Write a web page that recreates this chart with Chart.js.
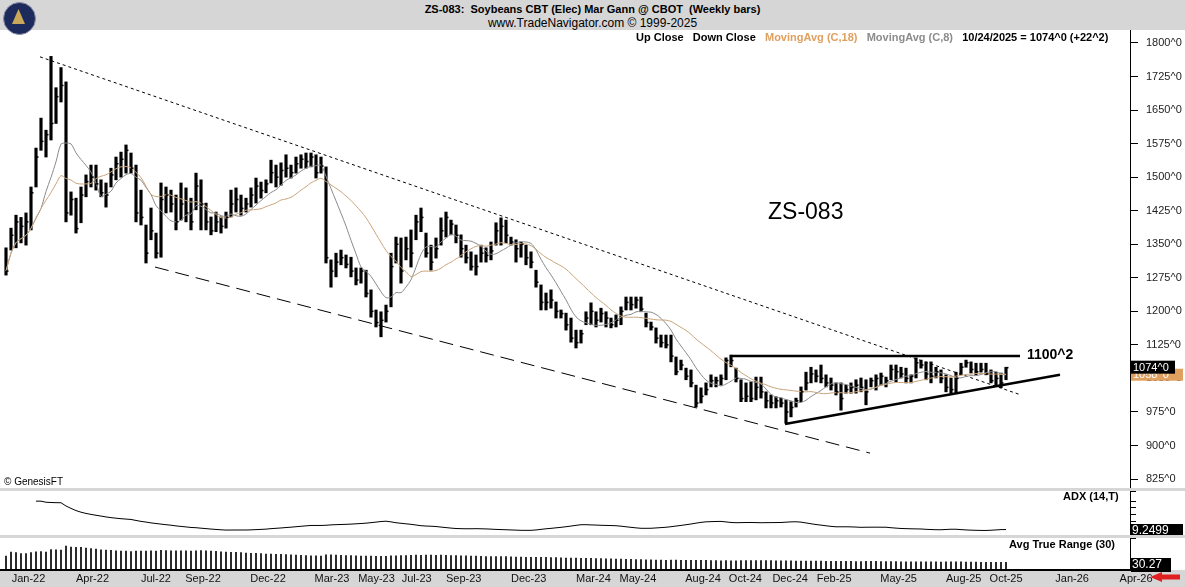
<!DOCTYPE html>
<html>
<head>
<meta charset="utf-8">
<script src="https://cdn.jsdelivr.net/npm/chart.js@4.4.1/dist/chart.umd.min.js"></script>
<style>
  body { margin:0; width:1185px; height:587px; background:#d6d6d6; font-family:"Liberation Sans", Arial, sans-serif; position:relative; overflow:hidden; }
  canvas { position:absolute; left:0; background:#fff; }
  .t { position:absolute; font-size:11px; white-space:nowrap; }
  .b { font-weight:bold; }
</style>
</head>
<body>
<div style="position:absolute;left:3px;top:2px;width:31px;height:31px;border-radius:50%;background:#1d2b5c;border:1px solid #8a8fa8;z-index:3"></div>
<div style="position:absolute;left:12px;top:9px;width:13px;height:15px;background:#c9a85a;clip-path:polygon(50% 0,100% 100%,0 100%);z-index:4"></div>
<div class="t b" style="left:0;width:1185px;text-align:center;top:3px;">ZS-083:&nbsp; Soybeans CBT (Elec) Mar Gann @ CBOT&nbsp; (Weekly bars)</div>
<div class="t" style="left:0;width:1185px;text-align:center;top:16px;font-size:12px;">www.TradeNavigator.com © 1999-2025</div>

<canvas id="main" width="1185" height="458" style="top:30px"></canvas>
<canvas id="adx" width="1185" height="44" style="top:491px"></canvas>
<canvas id="atr" width="1185" height="49" style="top:538px;background:#d6d6d6"></canvas>

<div class="t b" style="left:636px;top:31px;z-index:2">Up Close&nbsp;&nbsp; Down Close&nbsp;&nbsp; <span style="color:#e0a060">MovingAvg (C,18)</span>&nbsp;&nbsp; <span style="color:#8c8c8c">MovingAvg (C,8)</span>&nbsp;&nbsp; 10/24/2025 = 1074^0 (+22^2)</div>
<div class="t" style="left:768px;top:198px;font-size:23px;z-index:2">ZS-083</div>
<div class="t b" style="left:1027px;top:346px;font-size:14px;z-index:2">1100^2</div>
<div class="t" style="left:4px;top:476px;font-size:10px;z-index:2">© GenesisFT</div>
<div class="t b" style="left:1063px;top:490px;z-index:2">ADX (14,T)</div>
<div class="t b" style="left:1009px;top:538px;z-index:2">Avg True Range (30)</div>
<div style="position:absolute;left:1150px;top:572px;width:30px;height:10px;background:#e02020;clip-path:polygon(0 50%,40% 0,40% 25%,100% 25%,100% 75%,40% 75%,40% 100%);z-index:3"></div>

<script>
// weekly bars, first bar = week of 12/24/2021, last = 10/24/2025
var startDate = new Date(2021, 11, 24);

var highs = [1342,1386,1415,1410,1420,1478,1565,1632,1605,1770,1700,1745,1713,1467,1453,1478,1505,1527,1527,1494,1487,1520,1545,1556,1572,1554,1527,1471,1393,1431,1375,1487,1478,1471,1460,1487,1476,1453,1509,1494,
  1442,1411,1422,1411,1422,1471,1476,1460,1453,1476,1498,1489,1494,1538,1527,1532,1550,1527,1545,1550,1554,1554,1550,1545,1523,1315,1330,1337,1326,1321,1297,1297,1292,1248,1203,1199,1214,1330,1366,1364,1366,
  1382,1415,1431,1375,1348,1364,1409,1422,1404,1393,1371,1348,1333,1326,1348,1342,1355,1398,1409,1404,1366,1360,1355,1348,1333,1292,1259,1241,1248,1221,1203,1196,1185,1158,1158,1199,1219,1199,1207,1199,1185,1192,1210,1232,1232,1232,1232,1196,
  1176,1163,1147,1147,1147,1098,1091,1073,1069,1035,1029,1040,1058,1053,1058,1096,1102,1073,1047,1040,1042,1053,1053,1020,1013,1009,1006,1002,998,1006,1031,1064,1075,1069,1080,1058,1051,1040,1040,1035,1040,1047,1051,1047,1051,1058,
  1062,1053,1080,1080,1075,1073,1058,1096,1091,1087,1087,1075,1069,1058,1051,1064,1084,1091,1087,1084,1084,1084,1069,1064,1062,1075];
var lows = [1281,1337,1342,1353,1348,1382,1478,1560,1545,1583,1620,1668,1400,1415,1375,1398,1456,1478,1471,1456,1433,1478,1494,1500,1509,1509,1400,1393,1308,1360,1319,1321,1420,1422,1382,1404,1400,1382,1427,1382,
  1382,1371,1378,1375,1386,1411,1422,1415,1422,1433,1442,1453,1465,1487,1478,1482,1500,1498,1509,1520,1520,1523,1498,1509,1308,1254,1277,1304,1297,1277,1259,1263,1232,1187,1165,1143,1176,1210,1308,1263,1315,
  1299,1360,1378,1321,1292,1319,1348,1366,1371,1353,1321,1308,1292,1281,1310,1310,1315,1348,1348,1353,1348,1310,1321,1304,1297,1254,1203,1203,1207,1185,1185,1158,1131,1118,1129,1170,1170,1165,1176,1165,1163,1165,1170,1203,1203,1207,1199,1165,
  1158,1129,1120,1118,1087,1058,1069,1047,1031,986,995,1013,1031,1031,1035,1047,1076,1042,998,998,998,1002,1006,984,984,984,986,950,964,986,998,1024,1040,1042,1040,1031,1024,1013,979,1017,1017,1017,1020,991,1031,1024,
  1035,1031,1047,1042,1051,1040,1040,1051,1073,1047,1040,1051,1040,1020,1017,1017,1058,1075,1062,1058,1064,1058,1040,1035,1029,1047];
var closes = [1290,1370,1400,1390,1400,1465,1545,1580,1595,1620,1680,1705,1420,1450,1385,1460,1490,1500,1485,1465,1460,1505,1530,1540,1560,1520,1420,1410,1330,1380,1330,1450,1460,1440,1400,1440,1420,1400,1480,1440,
  1400,1380,1400,1390,1410,1440,1450,1430,1440,1460,1480,1470,1485,1510,1500,1515,1520,1510,1530,1540,1535,1545,1510,1525,1320,1290,1310,1320,1305,1290,1270,1290,1240,1200,1175,1180,1200,1300,1350,1290,1340,
  1330,1400,1410,1330,1310,1340,1380,1410,1395,1370,1340,1320,1300,1300,1330,1325,1335,1380,1390,1370,1355,1340,1350,1320,1310,1265,1220,1220,1225,1200,1195,1170,1140,1130,1150,1185,1200,1180,1195,1185,1170,1180,1200,1220,1215,1225,1205,1175,
  1165,1140,1130,1125,1100,1065,1080,1055,1040,995,1010,1025,1045,1045,1050,1090,1090,1050,1005,1010,1005,1030,1020,1000,995,1000,995,975,985,1000,1020,1040,1060,1055,1050,1040,1035,1020,1005,1025,1030,1035,1030,1020,1045,1050,
  1055,1045,1070,1065,1060,1050,1055,1085,1080,1060,1055,1065,1050,1030,1025,1050,1075,1085,1070,1065,1070,1060,1045,1050,1040,1074];

var priceTicks = [825,900,975,1050,1125,1200,1275,1350,1425,1500,1575,1650,1725,1800];
var monthLabels = ['Jan-22','Apr-22','Jul-22','Sep-22','Dec-22','Mar-23','May-23','Jul-23','Sep-23','Dec-23','Mar-24','May-24','Aug-24','Oct-24','Dec-24','Feb-25','May-25','Aug-25','Oct-25','Jan-26','Apr-26'];
var monthDates = ['2022-01-01','2022-04-01','2022-07-01','2022-09-01','2022-12-01','2023-03-01','2023-05-01','2023-07-01','2023-09-01','2023-12-01','2024-03-01','2024-05-01','2024-08-01','2024-10-01','2024-12-01','2025-02-01','2025-05-01','2025-08-01','2025-10-01','2026-01-01','2026-04-01'];

// drawn trend lines: [week index, price]
var resistLine = [[6.8, 1769], [203, 1013]];
var channelLow = [[29.8, 1299], [172.8, 883]];
var triangleTop = [[144.8, 1100], [202.8, 1100]];
var triangleLow = [[155.8, 948], [210.8, 1058]];
var adxLabel = '9.2499';
var atrLabel = '30.27';

function weekIndex(s) {
  var p = s.split('-');
  var d = new Date(+p[0], +p[1] - 1, +p[2]);
  return (d - startDate) / (7 * 86400000);
}

function sma(arr, n) {
  var out = [];
  for (var i = 0; i < arr.length; i++) {
    var k = Math.min(n, i + 1), s = 0;
    for (var j = i - k + 1; j <= i; j++) s += arr[j];
    out.push(s / k);
  }
  return out;
}

// true range, ATR(30) and ADX(14) from the bars
var tr = [], pdm = [], mdm = [];
for (var i = 0; i < closes.length; i++) {
  if (i == 0) { tr.push(highs[0] - lows[0]); pdm.push(0); mdm.push(0); continue; }
  tr.push(Math.max(highs[i] - lows[i], Math.abs(highs[i] - closes[i-1]), Math.abs(lows[i] - closes[i-1])));
  var up = highs[i] - highs[i-1], dn = lows[i-1] - lows[i];
  pdm.push(up > dn && up > 0 ? up : 0);
  mdm.push(dn > up && dn > 0 ? dn : 0);
}
function wilder(arr, n) {
  var out = [], v = arr[0];
  for (var i = 0; i < arr.length; i++) {
    var k = Math.min(n, i + 1);
    v = i == 0 ? arr[0] : v + (arr[i] - v) / k;
    out.push(v);
  }
  return out;
}
var atr = wilder(tr, 30);
var trs = wilder(tr, 14), ps = wilder(pdm, 14), ms = wilder(mdm, 14);
var dx = ps.map(function(p, i) { var s = p + ms[i]; return s ? 100 * Math.abs(p - ms[i]) / s : 0; });
var adx = wilder(dx.slice(6), 14);
var adxPts = adx.map(function(v, i) { return {x: i + 6, y: v}; });

var ma18 = sma(closes, 18), ma8 = sma(closes, 8);
function pts(arr) { return arr.map(function(v, i) { return {x: i, y: v}; }); }
function seg(line) { return line.map(function(p) { return {x: p[0], y: p[1]}; }); }

var xMin = -1.2, xMax = 224.8;
var fixedY = function(axis) { axis.width = 55; axis.paddingTop = 0; axis.paddingBottom = 0; };
var font = {family: '"Liberation Sans", Arial, sans-serif', size: 11};

var barTicks = {
  id: 'barTicks',
  afterDatasetsDraw: function(chart) {
    var ctx = chart.ctx, x = chart.scales.x, y = chart.scales.y;
    ctx.save();
    ctx.strokeStyle = '#000'; ctx.lineWidth = 1.5;
    for (var i = 0; i < closes.length; i++) {
      var px = x.getPixelForValue(i), py = y.getPixelForValue(closes[i]);
      ctx.beginPath(); ctx.moveTo(px, py); ctx.lineTo(px + 2.5, py); ctx.stroke();
    }
    // price boxes on the axis
    var last = closes.length - 1, ax = chart.chartArea.right + 1;
    var pm = y.getPixelForValue(ma18[last]);
    ctx.fillStyle = '#e0a060'; ctx.fillRect(ax, pm - 6, 52, 12);
    ctx.fillStyle = '#fff'; ctx.font = '11px "Liberation Sans", Arial';
    ctx.textBaseline = 'middle';
    ctx.fillText(Math.round(ma18[last]) + '^0', ax + 2, pm);
    var pc = y.getPixelForValue(closes[last]);
    ctx.fillStyle = '#000'; ctx.fillRect(ax, pc - 7, 44, 13);
    ctx.fillStyle = '#fff'; ctx.fillText(closes[last] + '^0', ax + 2, pc);
    ctx.restore();
  }
};

new Chart(document.getElementById('main'), {
  type: 'bar',
  data: {
    datasets: [
      {type: 'line', data: pts(ma18), borderColor: '#c9a47a', borderWidth: 1, pointRadius: 0, tension: 0.3},
      {type: 'line', data: pts(ma8), borderColor: '#8a8a8a', borderWidth: 1, pointRadius: 0, tension: 0.3},
      {data: closes.map(function(c, i) { return {x: i, y: [lows[i], highs[i]]}; }), backgroundColor: '#000', barThickness: 2.5},
      {type: 'line', data: seg(resistLine), borderColor: '#000', borderWidth: 1, borderDash: [3, 3], pointRadius: 0},
      {type: 'line', data: seg(channelLow), borderColor: '#000', borderWidth: 1, borderDash: [14, 7], pointRadius: 0},
      {type: 'line', data: seg(triangleTop), borderColor: '#000', borderWidth: 2.5, pointRadius: 0},
      {type: 'line', data: seg(triangleLow), borderColor: '#000', borderWidth: 2.5, pointRadius: 0}
    ]
  },
  options: {
    responsive: false, animation: false, layout: {padding: 0, autoPadding: false},
    plugins: {legend: {display: false}, tooltip: {enabled: false}},
    scales: {
      x: {type: 'linear', min: xMin, max: xMax, offset: false, display: false},
      y: {
        position: 'right', min: 805, max: 1829, afterFit: fixedY,
        afterBuildTicks: function(axis) { axis.ticks = priceTicks.map(function(v) { return {value: v}; }); },
        ticks: {color: '#222', font: font, padding: 8, callback: function(v) { return v + '^0'; }},
        grid: {drawOnChartArea: false, tickLength: 8, color: '#000'},
        border: {color: '#000'}
      }
    }
  },
  plugins: [barTicks]
});

var adxBox = {
  id: 'adxBox',
  afterDatasetsDraw: function(chart) {
    var ctx = chart.ctx, ax = chart.chartArea.right + 1, py = chart.chartArea.bottom - 4;
    ctx.save();
    ctx.fillStyle = '#000'; ctx.fillRect(ax, py - 7, 52, 14);
    ctx.fillStyle = '#fff'; ctx.font = '12px "Liberation Sans", Arial'; ctx.textBaseline = 'middle';
    ctx.fillText(adxLabel, ax + 1, py);
    ctx.restore();
  }
};

new Chart(document.getElementById('adx'), {
  type: 'line',
  data: {datasets: [{data: adxPts, borderColor: '#000', borderWidth: 1, pointRadius: 0}]},
  options: {
    responsive: false, animation: false, layout: {padding: 0, autoPadding: false},
    plugins: {legend: {display: false}, tooltip: {enabled: false}},
    scales: {
      x: {type: 'linear', min: xMin, max: xMax, offset: false, display: false},
      y: {position: 'right', min: 0, max: 130, afterFit: fixedY, ticks: {display: false, stepSize: 20},
          grid: {drawOnChartArea: false, tickLength: 6, color: '#000'}, border: {color: '#000'}}
    }
  },
  plugins: [adxBox]
});

var atrBox = {
  id: 'atrBox',
  beforeDraw: function(chart) {
    var ctx = chart.ctx, a = chart.chartArea;
    ctx.save(); ctx.fillStyle = '#fff'; ctx.fillRect(a.left, a.top, a.right - a.left, a.bottom - a.top);
    ctx.fillRect(a.right, a.top, 60, a.bottom - a.top); ctx.restore();
  },
  afterDatasetsDraw: function(chart) {
    var ctx = chart.ctx, ax = chart.chartArea.right + 1, py = chart.chartArea.bottom - 5;
    ctx.save();
    ctx.fillStyle = '#000'; ctx.fillRect(ax, py - 7, 40, 14);
    ctx.fillStyle = '#fff'; ctx.font = '12px "Liberation Sans", Arial'; ctx.textBaseline = 'middle';
    ctx.fillText(atrLabel, ax + 1, py);
    ctx.restore();
  }
};

new Chart(document.getElementById('atr'), {
  type: 'bar',
  data: {datasets: [{data: pts(atr), backgroundColor: '#000', barThickness: 1}]},
  options: {
    responsive: false, animation: false, layout: {padding: 0, autoPadding: false},
    plugins: {legend: {display: false}, tooltip: {enabled: false}},
    scales: {
      x: {
        type: 'linear', min: xMin, max: xMax, offset: false,
        afterFit: function(axis) { axis.height = 17; axis.paddingLeft = 0; axis.paddingRight = 0; },
        afterBuildTicks: function(axis) { axis.ticks = monthDates.map(function(d) { return {value: weekIndex(d)}; }); },
        ticks: {color: '#111', font: font, padding: 2, maxRotation: 0, autoSkip: false, align: 'start',
                callback: function(v, idx) { return monthLabels[idx]; }},
        grid: {drawOnChartArea: false, tickLength: 0}, border: {color: '#000', width: 2}
      },
      y: {position: 'right', min: 0, max: 140, afterFit: fixedY, ticks: {display: false},
          grid: {drawOnChartArea: false, tickLength: 6, color: '#000'}, border: {color: '#000'}}
    }
  },
  plugins: [atrBox]
});
</script>
</body>
</html>
